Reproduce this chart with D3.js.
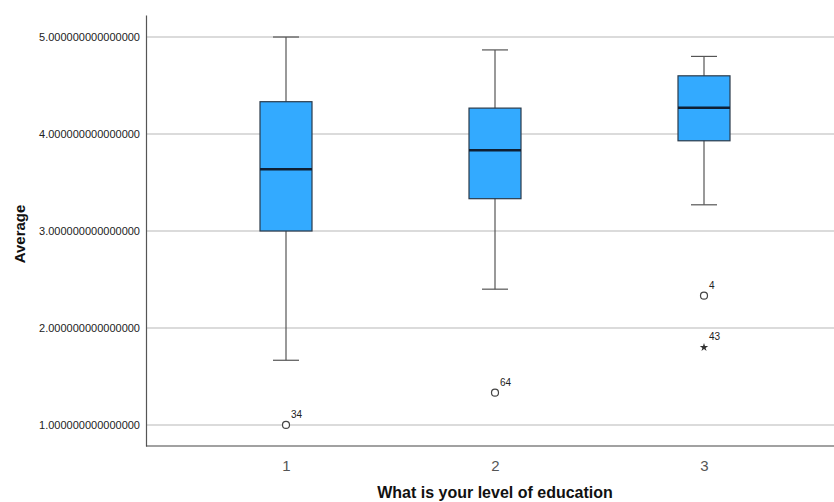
<!DOCTYPE html>
<html lang="en">
<head>
<meta charset="utf-8">
<title>Boxplot</title>
<script src="https://d3js.org/d3.v7.min.js"></script>
<style>
  body { margin: 0; background: #fff; }
  svg text { font-family: Arial, "Liberation Sans", sans-serif; }
</style>
</head>
<body>
<script>
'use strict';

// data
var categories = ["1", "2", "3"];
var whiskerLow  = [1.667, 2.40, 3.27];
var q1          = [3.00, 3.333, 3.93];
var medians     = [3.636, 3.833, 4.27];
var q3          = [4.333, 4.267, 4.60];
var whiskerHigh = [5.00, 4.867, 4.80];
// outliers: category, value, case label, kind
var outCat   = ["1", "2", "3", "3"];
var outVal   = [1.00, 1.333, 2.333, 1.80];
var outLabel = ["34", "64", "4", "43"];
var outKind  = ["circle", "circle", "circle", "star"];
var yTicks = [1, 2, 3, 4, 5];

var w = 834, h = 502;
var plotLeft = 146, plotTop = 15, plotRight = 834, plotBottom = 446;

var svg = d3.select("body").append("svg")
    .attr("width", w)
    .attr("height", h);

var y = d3.scaleLinear()
    .domain([0.783, 5.227])
    .range([plotBottom, plotTop]);

var x = d3.scalePoint()
    .domain(categories)
    .range([286, 704]);

var boxW = 52;

// gridlines
svg.selectAll("line.grid")
    .data(yTicks)
    .enter()
    .append("line")
    .attr("class", "grid")
    .attr("x1", plotLeft)
    .attr("x2", plotRight)
    .attr("y1", function(d){ return y(d); })
    .attr("y2", function(d){ return y(d); })
    .attr("stroke", "#cfcfcf")
    .attr("stroke-width", 1.5);

// y axis
var yAxis = d3.axisLeft(y)
    .tickValues(yTicks)
    .tickSize(0)
    .tickPadding(6)
    .tickFormat(function(d){ return d3.format(".15f")(d); });
var gy = svg.append("g")
    .attr("transform", "translate(" + plotLeft + ",0)")
    .call(yAxis);
gy.select(".domain").attr("stroke", "#555").attr("stroke-width", 1.2);
gy.selectAll("text").attr("font-size", "11px").attr("fill", "#222");

// x axis
var xAxis = d3.axisBottom(x).tickSize(0).tickPadding(14);
var gx = svg.append("g")
    .attr("transform", "translate(0," + plotBottom + ")")
    .call(xAxis);
gx.select(".domain").attr("d", "M" + plotLeft + ",0H" + plotRight).attr("stroke", "#444").attr("stroke-width", 1.2);
gx.selectAll("text").attr("font-size", "15px").attr("fill", "#555");

// boxes
var boxes = categories.map(function(c, i){
    return { c: c, lo: whiskerLow[i], q1: q1[i], med: medians[i], q3: q3[i], hi: whiskerHigh[i] };
});

var g = svg.selectAll("g.box")
    .data(boxes)
    .enter()
    .append("g")
    .attr("class", "box");

g.append("line")
    .attr("x1", function(d){ return x(d.c); })
    .attr("x2", function(d){ return x(d.c); })
    .attr("y1", function(d){ return y(d.hi); })
    .attr("y2", function(d){ return y(d.lo); })
    .attr("stroke", "#555")
    .attr("stroke-width", 1.2);

g.selectAll("line.cap")
    .data(function(d){ return [{c: d.c, v: d.hi}, {c: d.c, v: d.lo}]; })
    .enter()
    .append("line")
    .attr("class", "cap")
    .attr("x1", function(d){ return x(d.c) - boxW / 4; })
    .attr("x2", function(d){ return x(d.c) + boxW / 4; })
    .attr("y1", function(d){ return y(d.v); })
    .attr("y2", function(d){ return y(d.v); })
    .attr("stroke", "#555")
    .attr("stroke-width", 1.2);

g.append("rect")
    .attr("x", function(d){ return x(d.c) - boxW / 2; })
    .attr("y", function(d){ return y(d.q3); })
    .attr("width", boxW)
    .attr("height", function(d){ return y(d.q1) - y(d.q3); })
    .attr("fill", "#33aaff")
    .attr("stroke", "#2b3a4a")
    .attr("stroke-width", 1.2);

g.append("line")
    .attr("x1", function(d){ return x(d.c) - boxW / 2; })
    .attr("x2", function(d){ return x(d.c) + boxW / 2; })
    .attr("y1", function(d){ return y(d.med); })
    .attr("y2", function(d){ return y(d.med); })
    .attr("stroke", "#0f1f33")
    .attr("stroke-width", 2.5);

// outliers
var outliers = outVal.map(function(v, i){
    return { c: outCat[i], v: v, label: outLabel[i], kind: outKind[i] };
});

svg.selectAll("circle.out")
    .data(outliers.filter(function(d){ return d.kind === "circle"; }))
    .enter()
    .append("circle")
    .attr("class", "out")
    .attr("cx", function(d){ return x(d.c); })
    .attr("cy", function(d){ return y(d.v); })
    .attr("r", 3.5)
    .attr("fill", "#fff")
    .attr("stroke", "#444")
    .attr("stroke-width", 1.2);

svg.selectAll("path.star")
    .data(outliers.filter(function(d){ return d.kind === "star"; }))
    .enter()
    .append("path")
    .attr("class", "star")
    .attr("d", d3.symbol().type(d3.symbolStar).size(22))
    .attr("transform", function(d){ return "translate(" + x(d.c) + "," + y(d.v) + ")"; })
    .attr("fill", "#333");

svg.selectAll("text.outlabel")
    .data(outliers)
    .enter()
    .append("text")
    .attr("class", "outlabel")
    .attr("x", function(d){ return x(d.c) + 5; })
    .attr("y", function(d){ return y(d.v) - 7; })
    .attr("font-size", "10px")
    .attr("fill", "#222")
    .text(function(d){ return d.label; });

// titles
svg.append("text")
    .attr("transform", "translate(25,234) rotate(-90)")
    .attr("text-anchor", "middle")
    .attr("font-size", "15px")
    .attr("font-weight", "bold")
    .attr("fill", "#111")
    .text("Average");

svg.append("text")
    .attr("x", 495)
    .attr("y", 498)
    .attr("text-anchor", "middle")
    .attr("font-size", "16px")
    .attr("font-weight", "bold")
    .attr("fill", "#111")
    .text("What is your level of education");
</script>
</body>
</html>
